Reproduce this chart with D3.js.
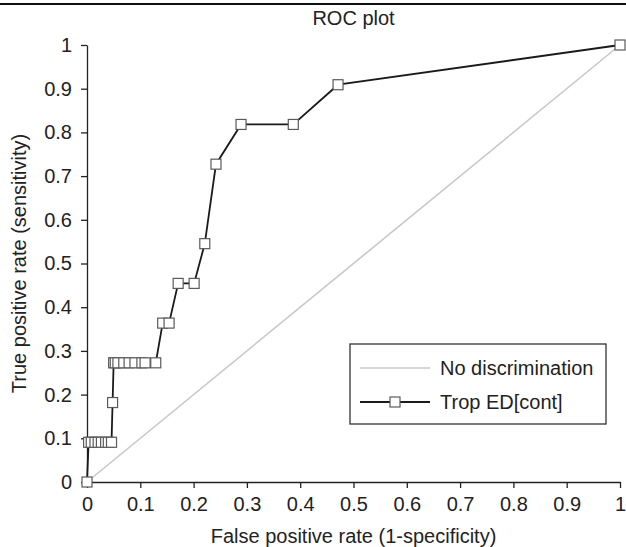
<!DOCTYPE html>
<html>
<head>
<meta charset="utf-8">
<script src="https://cdn.jsdelivr.net/npm/d3@7"></script>
<style>
  body { margin: 0; background: #fff; }
  svg text { font-family: "Liberation Sans", Arial, sans-serif; fill: #222; }
</style>
</head>
<body>
<div id="roc"></div>
<script>
// ROC curve points (false positive rate, true positive rate)
const fpr = [0, 0.003, 0.008, 0.015, 0.021, 0.027, 0.035, 0.040, 0.046,
             0.048,
             0.050, 0.053, 0.058, 0.069, 0.079, 0.090, 0.103, 0.109, 0.129,
             0.142, 0.154, 0.171, 0.201, 0.221, 0.242, 0.289, 0.387, 0.471, 1];
const tpr = [0, 0.0909, 0.0909, 0.0909, 0.0909, 0.0909, 0.0909, 0.0909, 0.0909,
             0.1818,
             0.2727, 0.2727, 0.2727, 0.2727, 0.2727, 0.2727, 0.2727, 0.2727, 0.2727,
             0.3636, 0.3636, 0.4545, 0.4545, 0.5454, 0.7273, 0.8182, 0.8182, 0.9091, 1];
const diagonal = [0, 1];
const ticks = [0, 0.1, 0.2, 0.3, 0.4, 0.5, 0.6, 0.7, 0.8, 0.9, 1];
const seriesNames = ["No discrimination", "Trop ED[cont]"];

const width = 626,
      height = 547,
      margin = ({ top: 45, right: 6, bottom: 65, left: 87 });

const svg = d3.select("#roc")
  .append("svg")
  .attr("width", width)
  .attr("height", height);

// rule across the top of the figure
svg.append("line")
  .attr("x1", 0).attr("x2", width)
  .attr("y1", 4).attr("y2", 4)
  .attr("stroke", "#111").attr("stroke-width", 2);

let x = d3.scaleLinear()
  .domain([0, 1])
  .range([margin.left, width - margin.right]);

let y = d3.scaleLinear()
  .domain([0, 1])
  .range([height - margin.bottom, margin.top]);

const fmt = d => (d === 0 || d === 1) ? String(d) : d.toFixed(1);

let xAxis = svg.append("g")
  .attr("transform", `translate(0,${y(0)})`)
  .call(d3.axisBottom(x).tickValues(ticks).tickFormat(fmt).tickSize(6).tickSizeOuter(0).tickPadding(9));

let yAxis = svg.append("g")
  .attr("transform", `translate(${x(0)},0)`)
  .call(d3.axisLeft(y).tickValues(ticks).tickFormat(fmt).tickSize(6).tickSizeOuter(0).tickPadding(9));

[xAxis, yAxis].forEach(g => {
  g.attr("font-size", 20);
  g.select(".domain").attr("stroke", "#222").attr("stroke-width", 1.3);
  g.selectAll(".tick line").attr("stroke", "#222").attr("stroke-width", 1.3);
  g.selectAll(".tick text").style("font-size", "20px").attr("fill", "#222");
});

// chance line
svg.append("line")
  .attr("x1", x(diagonal[0])).attr("y1", y(diagonal[0]))
  .attr("x2", x(diagonal[1])).attr("y2", y(diagonal[1]))
  .attr("stroke", "#c8c8c8").attr("stroke-width", 1.6);

const pts = fpr.map((f, i) => ({ f: f, t: tpr[i] }));

svg.append("path")
  .datum(pts)
  .attr("fill", "none")
  .attr("stroke", "#1a1a1a")
  .attr("stroke-width", 1.8)
  .attr("d", d3.line().x(d => x(d.f)).y(d => y(d.t)));

const ms = 10;
svg.selectAll(".pt")
  .data(pts)
  .join("rect")
  .attr("class", "pt")
  .attr("x", d => x(d.f) - ms / 2)
  .attr("y", d => y(d.t) - ms / 2)
  .attr("width", ms).attr("height", ms)
  .attr("fill", "#fff")
  .attr("stroke", "#5a5a5a")
  .attr("stroke-width", 1.2);

// titles
svg.append("text")
  .attr("x", (x(0) + x(1)) / 2).attr("y", 25)
  .attr("text-anchor", "middle").style("font-size", "20px")
  .text("ROC plot");

svg.append("text")
  .attr("x", (x(0) + x(1)) / 2).attr("y", 543)
  .attr("text-anchor", "middle").style("font-size", "20px")
  .text("False positive rate (1-specificity)");

svg.append("text")
  .attr("transform", `translate(26,${(y(0) + y(1)) / 2}) rotate(-90)`)
  .attr("text-anchor", "middle").style("font-size", "20px")
  .text("True positive rate (sensitivity)");

// legend
const lg = svg.append("g").attr("transform", "translate(350,344)");
lg.append("rect")
  .attr("width", 256).attr("height", 80)
  .attr("fill", "#fff").attr("stroke", "#333").attr("stroke-width", 1.3);

lg.append("line")
  .attr("x1", 10).attr("x2", 80).attr("y1", 24).attr("y2", 24)
  .attr("stroke", "#c8c8c8").attr("stroke-width", 1.6);
lg.append("line")
  .attr("x1", 10).attr("x2", 80).attr("y1", 58).attr("y2", 58)
  .attr("stroke", "#1a1a1a").attr("stroke-width", 1.8);
lg.append("rect")
  .attr("x", 45 - ms / 2).attr("y", 58 - ms / 2)
  .attr("width", ms).attr("height", ms)
  .attr("fill", "#fff").attr("stroke", "#5a5a5a").attr("stroke-width", 1.2);

lg.selectAll(".lt")
  .data(seriesNames)
  .join("text")
  .attr("class", "lt")
  .attr("x", 90)
  .attr("y", (d, i) => 24 + i * 34)
  .attr("dy", "0.35em")
  .style("font-size", "20px")
  .text(d => d);
</script>
</body>
</html>
